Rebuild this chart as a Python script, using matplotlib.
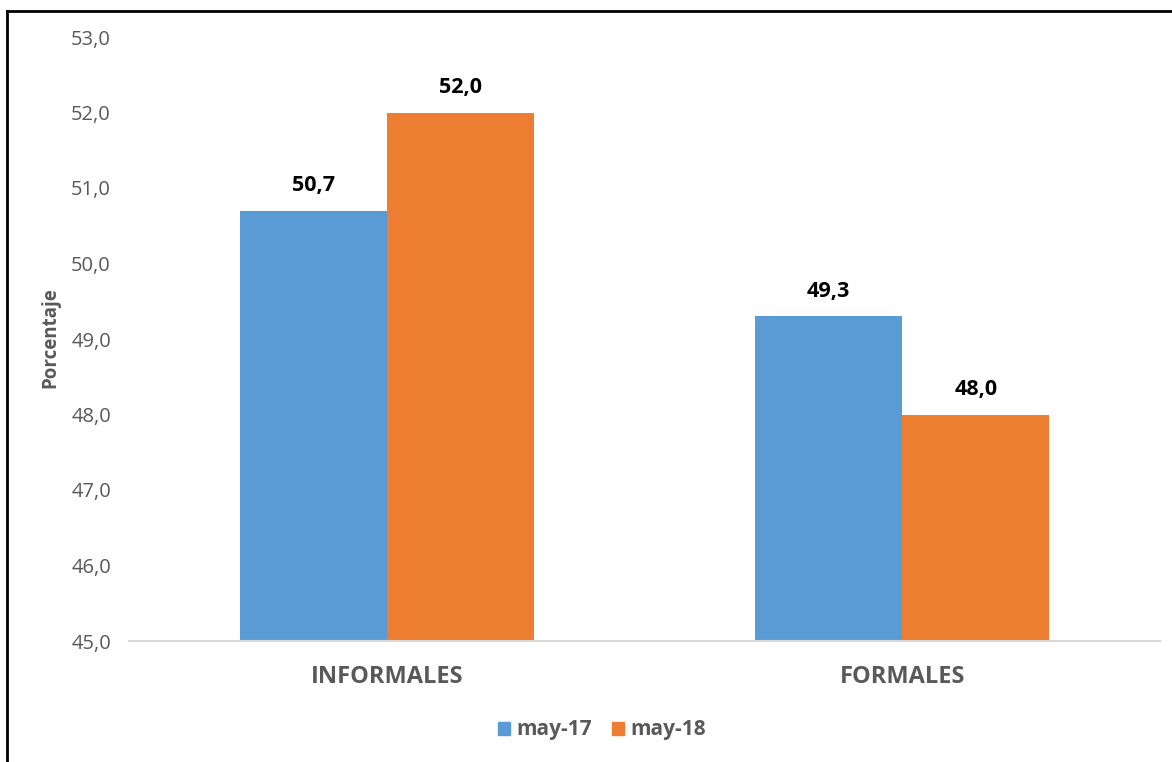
import matplotlib
matplotlib.use("Agg")
import matplotlib.pyplot as plt
import numpy as np
from matplotlib.lines import Line2D
from matplotlib.patches import Patch

categories = ["INFORMALES", "FORMALES"]
series_names = ["may-17", "may-18"]
may17 = [50.7, 49.3]
may18 = [52.0, 48.0]
yticks = [45, 46, 47, 48, 49, 50, 51, 52, 53]

blue = "#5B9BD5"
orange = "#ED7D31"
gray = "#595959"

plt.rcParams['font.family'] = ['Open Sans', 'DejaVu Sans']

fig = plt.figure(figsize=(11.72, 7.62), dpi=100)
ax = fig.add_axes([129/1172, 1 - 641/762, (1160-129)/1172, (641-37)/762])

x = np.arange(len(categories))
w = 0.285
ax.bar(x - w/2, np.array(may17) - 45, w, bottom=45, color=blue, label=series_names[0])
ax.bar(x + w/2, np.array(may18) - 45, w, bottom=45, color=orange, label=series_names[1])

for xi, v in zip(x - w/2, may17):
    ax.text(xi, v + 0.19, f"{v:.1f}".replace(".", ","), ha="center", va="bottom",
            fontsize=15.5, fontweight="bold", color="black")
for xi, v in zip(x + w/2, may18):
    ax.text(xi, v + 0.19, f"{v:.1f}".replace(".", ","), ha="center", va="bottom",
            fontsize=15.5, fontweight="bold", color="black")

ax.set_xlim(-0.5, 1.5)
ax.set_ylim(45, 53)
ax.set_yticks(yticks)
ax.set_yticklabels([f"{t:.1f}".replace(".", ",") for t in yticks], fontsize=14.5, color=gray)
ax.set_xticks(x)
ax.set_xticklabels(categories, fontsize=17, fontweight="bold", color=gray)
ax.tick_params(axis="both", length=0)
ax.tick_params(axis="y", pad=13)
ax.tick_params(axis="x", pad=17)
for s in ["top", "right", "left"]:
    ax.spines[s].set_visible(False)
ax.spines["bottom"].set_color("#D9D9D9")
ax.spines["bottom"].set_linewidth(1.5)

fig.text(50/1172, 1 - 338/762, "Porcentaje", rotation=90, ha="center", va="center",
         fontsize=13.5, fontweight="bold", color=gray)

handles = [Patch(color=blue), Patch(color=orange)]
leg = fig.legend(handles, series_names, loc="center", bbox_to_anchor=(602/1172, 1 - 730/762),
                 ncol=2, frameon=False, handlelength=0.55, handleheight=0.6,
                 handletextpad=0.3, columnspacing=1.0,
                 prop={"size": 15, "weight": "bold"})
for t in leg.get_texts():
    t.set_color(gray)

# outer frame (left and top visible)
fig.add_artist(Line2D([7/1172, 7/1172], [0, 1 - 11/762], transform=fig.transFigure, color="black", lw=2))
fig.add_artist(Line2D([7/1172, 1], [1 - 11/762, 1 - 11/762], transform=fig.transFigure, color="black", lw=2))

fig.savefig("out.png", dpi=100)
